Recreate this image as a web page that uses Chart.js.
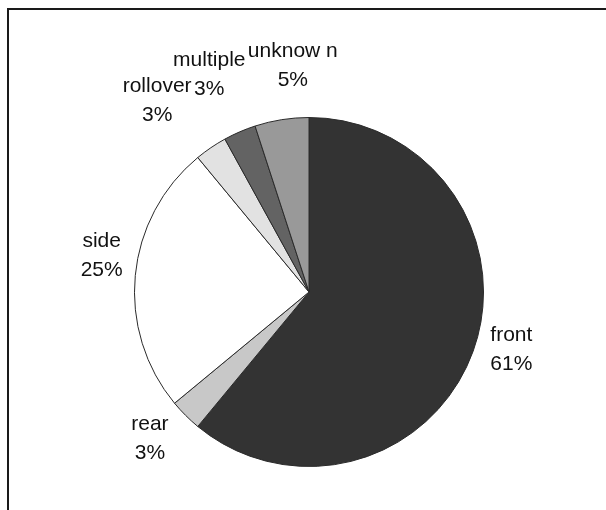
<!DOCTYPE html>
<html><head><meta charset="utf-8">
<script src="https://cdn.jsdelivr.net/npm/chart.js@4/dist/chart.umd.min.js"></script>
<style>
html,body{margin:0;padding:0;background:#fff;}
#wrap{position:relative;width:606px;height:510px;overflow:hidden;background:#fff;}
#frame{position:absolute;left:7px;top:8px;width:640px;height:540px;border-top:2px solid #1a1a1a;border-left:2px solid #1a1a1a;box-sizing:border-box;pointer-events:none;}
canvas{position:absolute;left:0;top:0;}
</style></head><body>
<div id="wrap"><canvas id="c" width="606" height="510"></canvas><div id="frame"></div></div>
<script>
const categories = ['front', 'rear', 'side', 'rollover', 'multiple', 'unknow n'];
const shares = [61, 3, 25, 3, 3, 5];
const percentLabels = ['61%', '3%', '25%', '3%', '3%', '5%'];

// Outside-end labels, placed along each slice's mid-angle (as computed by Chart.js)
const outLabels = {
  id: 'outLabels',
  afterDatasetsDraw(chart, args, opts) {
    const ctx = chart.ctx;
    const meta = chart.getDatasetMeta(0);
    ctx.save();
    ctx.font = opts.font;
    ctx.fillStyle = opts.color;
    ctx.textAlign = 'center';
    ctx.textBaseline = 'middle';
    meta.data.forEach((arc, i) => {
      const p = arc.getProps(['x', 'y', 'startAngle', 'endAngle', 'outerRadius'], true);
      const mid = (p.startAngle + p.endAngle) / 2 + opts.turn[i] * Math.PI / 180;
      const r = p.outerRadius + opts.gap[i];
      const cx = p.x + Math.cos(mid) * r;
      const cy = p.y + Math.sin(mid) * r;
      const lines = [categories[i], percentLabels[i]];
      lines.forEach((l, k) => ctx.fillText(l, cx, cy + (k - (lines.length - 1) / 2) * opts.lineHeight));
    });
    ctx.restore();
  }
};

new Chart(document.getElementById('c'), {
  type: 'pie',
  data: {
    labels: categories,
    datasets: [{
      data: shares,
      backgroundColor: ['#333333', '#c8c8c8', '#ffffff', '#e2e2e2', '#636363', '#999999'],
      borderColor: '#2a2a2a',
      borderWidth: 1
    }]
  },
  options: {
    responsive: false,
    animation: false,
    devicePixelRatio: 1,
    layout: { padding: { left: 134, right: 122, top: 117, bottom: 43 } },
    plugins: {
      legend: { display: false },
      tooltip: { enabled: false },
      outLabels: {
        font: '21px "Liberation Sans", Arial, sans-serif',
        color: '#111111',
        lineHeight: 29,
        gap: [36, 42, 36, 70, 65, 52],
        turn: [-3.8, 2.3, 4.6, -4.2, -1.2, 4.9]
      }
    }
  },
  plugins: [outLabels]
});
</script>
</body></html>
